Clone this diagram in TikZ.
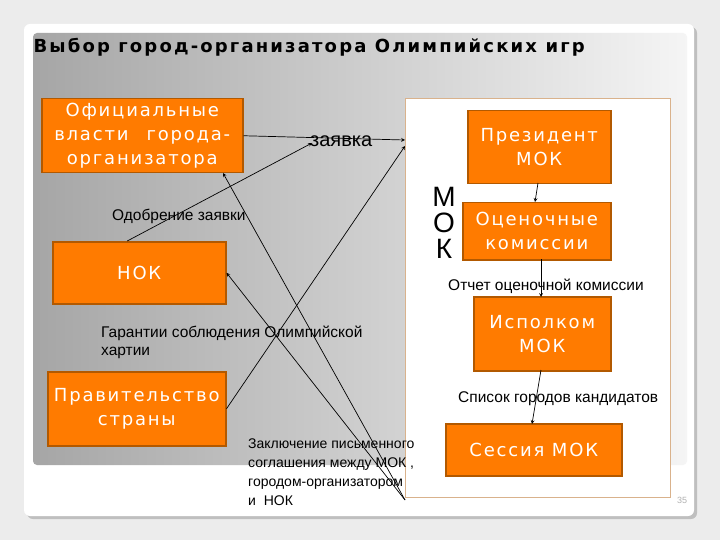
\documentclass[tikz,border=0pt]{standalone}
\usepackage{fontspec}
\setmainfont{Liberation Sans}
\newfontfamily\dvs{DejaVu Sans}
\begin{document}
\begin{tikzpicture}[x=1pt,y=-1pt,
 box/.style={draw=orange!70!black,line width=1.5pt,fill=orange!85!red!90!yellow,text=white,align=center,font=\dvs\fontsize{18}{24}\selectfont\addfontfeature{LetterSpace=10},inner sep=0pt},
 lab/.style={font=\fontsize{15.5}{18}\selectfont,align=left,inner sep=0pt,anchor=north west},
 ar/.style={->,>=stealth,line width=0.7pt}]
\fill[gray!15] (0,0) rectangle (720,540);
\useasboundingbox (0,0) rectangle (720,540);
\fill[gray!50,rounded corners=6] (27,27) rectangle (697,519);
\fill[white,rounded corners=6] (24,24) rectangle (694,516);
\shade[left color=gray!70,right color=gray!8,rounded corners=4] (33,33) rectangle (687,465);
\node[anchor=west,font=\dvs\bfseries\fontsize{18}{21}\selectfont\addfontfeature{LetterSpace=12}] (title) at (30,47) {Выбор город-организатора Олимпийских игр};
\node[draw=brown!60,line width=1.2pt,fill=white,minimum width=265,minimum height=399,anchor=north west,inner sep=0] (mok) at (405,98) {};
\node[box,minimum width=201,minimum height=74,anchor=north west] (off) at (41,98) {Официальные\\власти\quad города-\\организатора};
\node[box,minimum width=173,minimum height=62,anchor=north west] (nok) at (52,241) {НОК};
\node[box,minimum width=178,minimum height=74,anchor=north west] (gov) at (47,371) {Правительство\\страны};
\node[box,minimum width=143,minimum height=73,anchor=north west] (pres) at (467,110) {Президент\\МОК};
\node[box,minimum width=148,minimum height=57,anchor=north west] (ocen) at (462,202) {Оценочные\\комиссии};
\node[box,minimum width=137,minimum height=74,anchor=north west] (isp) at (473,296) {Исполком\\МОК};
\node[box,minimum width=176,minimum height=52,anchor=north west] (ses) at (445,423) {Сессия МОК};
\node[font=\fontsize{28}{26}\selectfont,align=center,inner sep=0] (mokl) at (444,223) {М\\О\\К};
\coordinate (in1) at (405,140);
\coordinate (in2) at (405,146);
\coordinate (zv) at (312,143);
\coordinate (src) at (405,500);
\draw[ar] (off.east) -- (in1);
\draw[ar] ([xshift=-12]nok.north) -- (zv);
\draw[ar] (gov.east) -- (in2);
\draw[ar] (src) -- (223,173);
\draw[ar] (src) -- (nok.east);
\draw[ar] (538,183) -- (535,202);
\draw[ar] (541,259) -- (541,297);
\draw[ar] (541,370) -- (532,424);
\node[font=\fontsize{20}{22}\selectfont,inner sep=0,anchor=north west] (zl) at (310,136) {заявка};
\node[lab] (l1) at (112,209) {Одобрение заявки};
\node[lab] (l2) at (101,326) {Гарантии соблюдения Олимпийской\\хартии};
\node[lab,font=\fontsize{14}{19}\selectfont] (l3) at (248,439) {Заключение письменного\\соглашения между МОК ,\\городом-организатором\\и\ \ НОК};
\node[lab] (l4) at (448,279) {Отчет оценочной комиссии};
\node[lab] (l5) at (458,391) {Список городов кандидатов};
\node[font=\fontsize{9}{10}\selectfont,text=gray!60] (pg) at (682,500) {35};
\end{tikzpicture}
\end{document}
